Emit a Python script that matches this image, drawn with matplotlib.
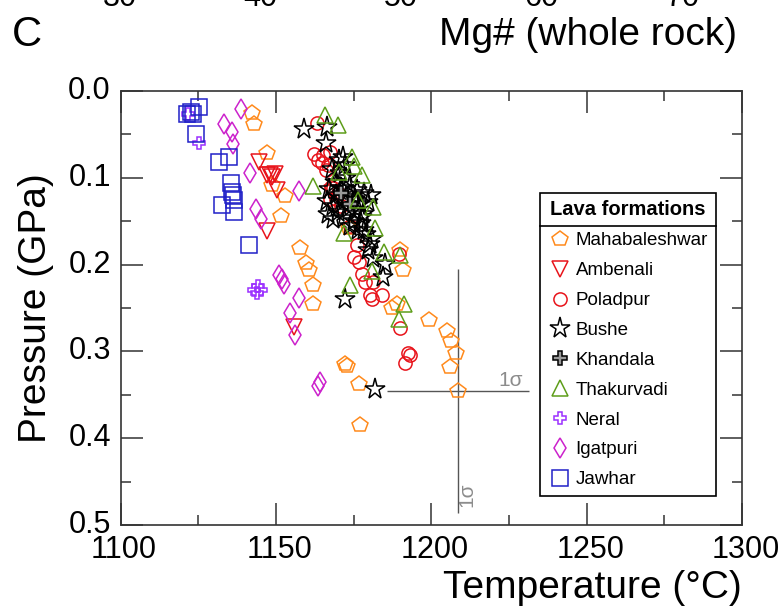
import matplotlib
matplotlib.use("Agg")
import matplotlib.pyplot as plt
from matplotlib.lines import Line2D
from matplotlib.ticker import MultipleLocator, FormatStrFormatter
from matplotlib.transforms import ScaledTranslation

plt.rcParams['font.family'] = ['Liberation Sans', 'DejaVu Sans']

# --- data (temperature degC, pressure GPa) ---
maha_T = [1142.4, 1143.1, 1147.1, 1148.8, 1153.0, 1151.7, 1157.8, 1159.6, 1160.5, 1162.1,
          1162.1, 1173.4, 1189.8, 1190.9, 1187.3, 1189.1, 1199.4, 1205.2, 1206.5, 1208.0,
          1206.1, 1208.6, 1172.3, 1172.8, 1176.9, 1177.1]
maha_P = [0.025, 0.038, 0.071, 0.108, 0.121, 0.144, 0.181, 0.198, 0.206, 0.223,
          0.245, 0.158, 0.183, 0.206, 0.250, 0.245, 0.264, 0.277, 0.288, 0.302,
          0.318, 0.346, 0.314, 0.317, 0.338, 0.385]

amb_T = [1144.7, 1148.1, 1148.9, 1149.8, 1147.0, 1150.3, 1147.0, 1155.7, 1168.0]
amb_P = [0.082, 0.097, 0.099, 0.096, 0.097, 0.114, 0.161, 0.272, 0.118]

pol_T = [1163.2, 1162.3, 1163.7, 1165.0, 1166.2, 1165.3, 1167.5, 1166.9, 1168.5, 1167.5,
         1167.7, 1170.0, 1169.5, 1171.0, 1173.7, 1176.0, 1175.0, 1176.6, 1177.7, 1178.7,
         1181.4, 1180.4, 1180.9, 1184.1, 1189.5, 1189.8, 1192.4, 1193.0, 1191.6]
pol_P = [0.037, 0.073, 0.079, 0.083, 0.091, 0.074, 0.070, 0.085, 0.112, 0.124,
         0.111, 0.118, 0.125, 0.133, 0.156, 0.177, 0.191, 0.197, 0.211, 0.220,
         0.220, 0.235, 0.240, 0.235, 0.188, 0.273, 0.302, 0.304, 0.313]

bushe_T = [1159.2, 1166.4, 1166.0, 1171.5, 1170.2, 1172.3, 1178.2, 1180.4, 1181.4, 1185.2,
           1184.6, 1172.3, 1182.0,
           1168.0, 1170.5, 1172.5, 1169.0, 1174.0, 1167.0, 1171.0, 1176.0, 1178.5, 1169.5,
           1173.0, 1175.5, 1166.5, 1171.5, 1177.0, 1179.5, 1168.5, 1173.5, 1175.5, 1170.0,
           1166.8, 1178.0, 1172.0, 1175.0, 1177.5, 1168.5, 1180.5, 1174.0, 1176.5, 1179.0,
           1181.0, 1174.9, 1177.7, 1179.8]
bushe_P = [0.044, 0.042, 0.060, 0.076, 0.080, 0.085, 0.160, 0.176, 0.193, 0.199,
           0.214, 0.240, 0.343,
           0.090, 0.095, 0.100, 0.105, 0.108, 0.113, 0.112, 0.114, 0.118, 0.120,
           0.122, 0.124, 0.127, 0.128, 0.130, 0.128, 0.133, 0.135, 0.139, 0.140,
           0.142, 0.142, 0.146, 0.150, 0.152, 0.148, 0.120, 0.156, 0.160, 0.165,
           0.170, 0.120, 0.145, 0.183]

khan_T = [1171.0, 1174.0]
khan_P = [0.118, 0.130]

thak_T = [1165.9, 1170.1, 1174.5, 1175.0, 1177.7, 1170.4, 1162.1, 1176.5, 1181.3, 1182.0,
          1171.8, 1184.7, 1190.0, 1180.9, 1174.0, 1191.3, 1189.5]
thak_P = [0.028, 0.039, 0.076, 0.087, 0.097, 0.093, 0.110, 0.126, 0.134, 0.158,
          0.164, 0.185, 0.189, 0.207, 0.224, 0.245, 0.263]

neral_T = [1125.1, 1121.8, 1142.8, 1145.2, 1144.1, 1143.8]
neral_P = [0.060, 0.026, 0.229, 0.229, 0.225, 0.233]

igat_T = [1138.7, 1133.4, 1135.8, 1136.1, 1141.7, 1143.5, 1145.2, 1157.5, 1151.0, 1151.9,
          1152.7, 1157.3, 1154.6, 1156.2, 1164.3, 1163.6]
igat_P = [0.021, 0.038, 0.047, 0.061, 0.094, 0.136, 0.147, 0.115, 0.212, 0.217,
          0.222, 0.239, 0.256, 0.281, 0.335, 0.340]

jaw_T = [1121.3, 1122.7, 1125.1, 1123.4, 1124.3, 1131.7, 1134.8, 1135.6, 1136.1, 1132.7,
         1136.6, 1136.6, 1135.8, 1141.5]
jaw_P = [0.026, 0.024, 0.019, 0.027, 0.049, 0.082, 0.076, 0.106, 0.120, 0.131,
         0.126, 0.139, 0.116, 0.178]

# 1 sigma error cross
sig_T0, sig_P0 = 1208.6, 0.3455
sig_T, sig_P = 23.0, 0.1405

# Mg# tick labels of the panel above (cut off at the top)
mg_ticks = [30, 40, 50, 60, 70]

fig = plt.figure(figsize=(7.8, 6.11), dpi=100)
ax = fig.add_axes([0.1545, 0.1408, 0.7968, 0.7103])

# formation name, data, marker, colour, size, face
series = [
    ("Mahabaleshwar", maha_T, maha_P, 'p', '#FF8A1C', 11.5, 'none'),
    ("Ambenali", amb_T, amb_P, 'v', '#E8141B', 11.5, 'none'),
    ("Poladpur", pol_T, pol_P, 'o', '#E8141B', 9.5, 'none'),
    ("Bushe", bushe_T, bushe_P, '*', 'black', 15.5, 'none'),
    ("Khandala", khan_T, khan_P, 'P', 'black', 10, '#9a9a9a'),
    ("Thakurvadi", thak_T, thak_P, '^', '#5E9E1A', 11.5, 'none'),
    ("Neral", neral_T, neral_P, 'P', '#9B30FF', 9, 'none'),
    ("Igatpuri", igat_T, igat_P, 'd', '#CC22CC', 10.5, 'none'),
    ("Jawhar", jaw_T, jaw_P, 's', '#2020C8', 11, 'none'),
]

for name, t, p, mk, col, ms, fc in series:
    ax.plot(t, p, linestyle='none', marker=mk, ms=ms, mec=col, mfc=fc,
            mew=1.1, label=name)

ax.errorbar([sig_T0], [sig_P0], xerr=sig_T, yerr=sig_P, fmt='none',
            ecolor='#555555', elinewidth=1.0, capsize=0, zorder=1)
ax.text(sig_T0 + 17, sig_P0 - 0.012, "1σ", color='#8c8c8c', fontsize=15,
        ha='center', va='center')
ax.text(sig_T0 + 3, sig_P0 + 0.12, "1σ", color='#8c8c8c', fontsize=15,
        rotation=90, ha='center', va='center')

ax.set_xlim(1100, 1300)
ax.set_ylim(0.5, 0.0)
ax.xaxis.set_major_locator(MultipleLocator(50))
ax.xaxis.set_minor_locator(MultipleLocator(25))
ax.yaxis.set_major_locator(MultipleLocator(0.1))
ax.yaxis.set_minor_locator(MultipleLocator(0.05))
ax.yaxis.set_major_formatter(FormatStrFormatter('%.1f'))
ax.tick_params(which='both', direction='in', top=True, right=True,
               width=1.1, labelsize=22, color='#333333')
ax.tick_params(which='major', length=15.5)
ax.tick_params(which='minor', length=7.5)
ax.tick_params(axis='x', pad=7)
ax.tick_params(axis='y', pad=7)
for s in ax.spines.values():
    s.set_linewidth(1.2)
    s.set_color('#333333')

ax.set_xlabel("Temperature (°C)", fontsize=28, loc='right', labelpad=4)
ax.set_ylabel("Pressure (GPa)", fontsize=28, labelpad=10)

# tick labels are nudged in the original: y labels a bit up, first x label right
for lab in ax.get_yticklabels():
    lab.set_transform(lab.get_transform() + ScaledTranslation(0, 2.5 / 72, fig.dpi_scale_trans))
xlabs = ax.get_xticklabels()
for i, lab in enumerate(xlabs):
    dx = 9 if i == 0 else (0 if i == len(xlabs) - 1 else 2.5)
    lab.set_transform(lab.get_transform() + ScaledTranslation(dx / 72, 0, fig.dpi_scale_trans))

leg = ax.legend(title="Lava formations", loc='upper left',
                bbox_to_anchor=(0.675, 0.765), fontsize=13.5,
                title_fontproperties={'size': 14.5, 'weight': 'bold'},
                frameon=True, fancybox=False, edgecolor='black',
                borderpad=0.4, handlelength=1.3, handletextpad=0.2,
                labelspacing=0.68, borderaxespad=0, framealpha=1)
leg.get_frame().set_linewidth(1.2)
leg.set_zorder(5)

# top part: panel letter and cut off axis of the panel above
fig.text(0.015, 0.943, "C", fontsize=30, ha='left', va='center')
fig.text(0.945, 0.943, "Mg# (whole rock)", fontsize=28, ha='right', va='center')
for m in mg_ticks:
    fig.text((120 + (m - 30) * 14.05) / 780, 1 - 6 / 611, str(m), fontsize=22,
             ha='center', va='baseline')

# rule under the legend title
fig.canvas.draw()
fr = leg.get_frame().get_window_extent()
tb = leg.get_title().get_window_extent()
ysep = tb.y0 - 0.68 * 13.5 * 100 / 72 / 2
fig.add_artist(Line2D([fr.x0 / 780, fr.x1 / 780], [ysep / 611, ysep / 611],
                      color='black', lw=1.2, zorder=10))

fig.savefig("out.png", dpi=100)
